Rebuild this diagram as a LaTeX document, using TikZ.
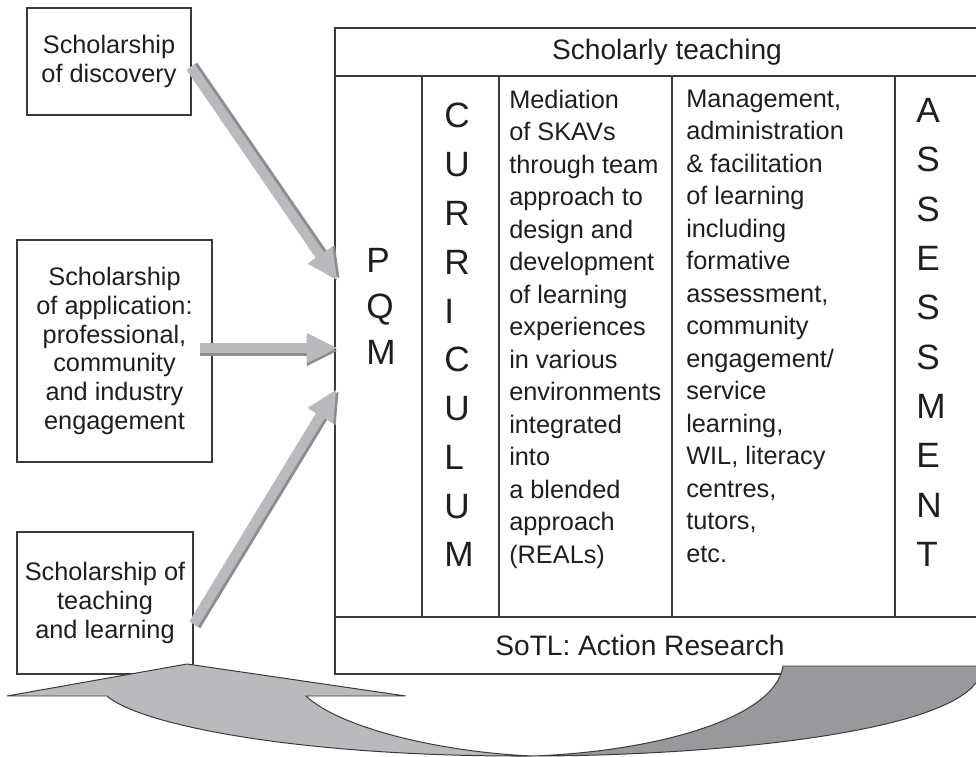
\documentclass[tikz,border=0pt]{standalone}
\usepackage{fontspec}
\setmainfont{Liberation Sans}
\usepackage{xcolor}
\usetikzlibrary{arrows.meta,calc}
\definecolor{arrowgrey}{HTML}{B9BABD}
\definecolor{shadegrey}{HTML}{8C8D90}
\definecolor{backgrey}{HTML}{98999C}
\definecolor{linegrey}{HTML}{3A3A3A}
\definecolor{inkgrey}{HTML}{1E1E1E}
\newcommand{\px}{0.025cm}

\begin{document}
\begin{tikzpicture}[x=0.025cm, y=-0.025cm,
    srcbox/.style={draw=linegrey, line width=0.8pt, align=center, inner sep=0pt,
      text=inkgrey, font=\fontsize{18}{20.4}\selectfont},
    celltext/.style={anchor=north west, align=left, inner sep=0pt, text=inkgrey,
      font=\fontsize{18}{23.1}\selectfont},
    bigletters/.style={anchor=north west, align=left, inner sep=0pt, text=inkgrey,
      font=\fontsize{25}{#1}\selectfont},
    rowtext/.style={inner sep=0pt, text=inkgrey, font=\fontsize{20}{24}\selectfont},
    rule/.style={draw=linegrey, line width=1pt},
    blockarrow/.style={arrowgrey, line width=10*\px,
      -{Triangle[length=0.75cm, width=0.75cm, line width=0pt]}},
    blockshade/.style={blockarrow, shadegrey},
    ribbon/.style={draw=linegrey, line width=0.7pt, line join=miter}]
  \useasboundingbox (0,0) rectangle (976,757);
  \clip (0,0) rectangle (976,757);

  % the three kinds of scholarship
  \node[srcbox, minimum width=164*\px, minimum height=107*\px] (disc) at (109,61.5)
    {Scholarship\\of discovery};
  \node[srcbox, minimum width=195*\px, minimum height=222*\px] (appl) at (114.5,351)
    {Scholarship\\of application:\\professional,\\community\\and industry\\engagement};
  \node[srcbox, minimum width=176*\px, minimum height=142*\px] (teach) at (105,603)
    {Scholarship of\\teaching\\and learning};

  % frame: header, five columns, footer
  \draw[rule] (335,28) rectangle (1000,674);
  \draw[rule] (335,76) -- (1000,76);
  \draw[rule] (335,617) -- (1000,617);
  \foreach \x in {422,499,672,895}
    \draw[rule] (\x,76) -- (\x,617);

  \node[rowtext] (scholarly) at (667,52) {Scholarly teaching};
  \node[rowtext] (sotl) at (640,645) {SoTL: Action Research};

  \node[bigletters=32.6] (pqm) at (366,248) {P\\Q\\M};
  \node[bigletters=34.7] (curric) at (444,103) {C\\U\\R\\R\\I\\C\\U\\L\\U\\M};
  \node[bigletters=35.1] (assess) at (916,98) {A\\S\\S\\E\\S\\S\\M\\E\\N\\T};

  \node[celltext] (mediation) at (509,89.8)
    {Mediation\\of SKAVs\\through team\\approach to\\design and\\development\\of learning\\experiences\\in various\\environments\\integrated\\into\\a blended\\approach\\(REALs)};
  \node[celltext] (management) at (686,89.8)
    {Management,\\administration\\\& facilitation\\of learning\\including\\formative\\assessment,\\community\\engagement/\\service\\learning,\\WIL, literacy\\centres,\\tutors,\\etc.};

  % block arrows into the PQM column
  \coordinate (intoA) at (337,280);
  \coordinate (applout) at (200,348);
  \coordinate (intoB) at (337,348);
  \coordinate (intoC) at (336,390);
  \draw[blockshade] ($(disc.east)+(1.5,4)$) -- ($(intoA)+(2.5,-1.7)$);
  \draw[blockarrow] ($(disc.east)+(-1,5.5)$) -- (intoA);
  \draw[blockshade] ($(applout)+(0,3)$) -- ($(intoB)+(0,3)$);
  \draw[blockarrow] (applout) -- (intoB);
  \draw[blockshade] ($(teach.east)+(2.5,22.6)$) -- ($(intoC)+(2.5,1.6)$);
  \draw[blockarrow] ($(teach.east)+(0,21)$) -- (intoC);

  % curved arrow from the footer back to the teaching box
  \coordinate (backtip) at (187,664);
  \coordinate (bottom) at (532,756);
  \filldraw[ribbon, fill=arrowgrey] (backtip) -- (405.7,696) -- (306,696)
    .. controls (340,728) and (440,752) .. (bottom)
    .. controls (300,757) and (140,725) .. (107,696) -- (7,696) -- cycle;
  \filldraw[ribbon, fill=backgrey] (bottom)
    .. controls (650,752) and (775,720) .. (783,666) -- (979,666) -- (979,678)
    .. controls (950,735) and (700,756) .. (bottom);
\end{tikzpicture}
\end{document}
